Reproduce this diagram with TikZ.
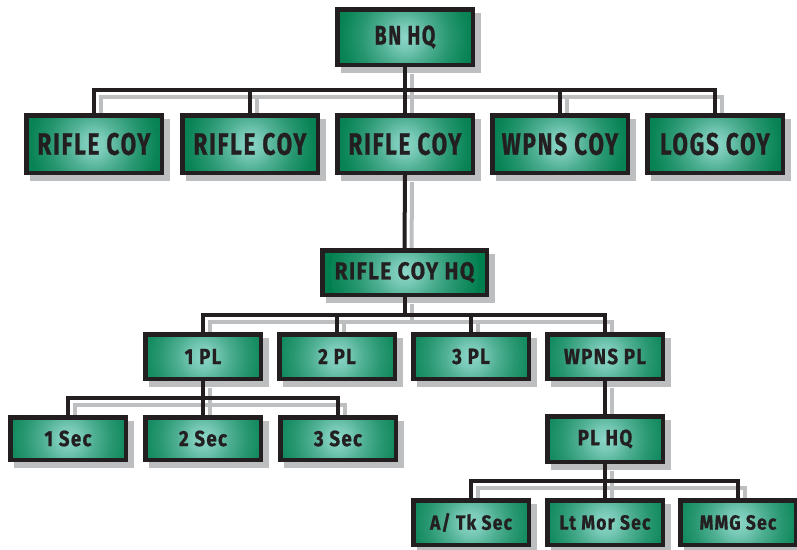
\documentclass[tikz,border=0pt]{standalone}
\usepackage{fontspec}
\newfontfamily\coyfont{Fira Sans}[FakeStretch=0.72, LetterSpace=6, FakeBold=0.8]
\newfontfamily\plfont{Fira Sans}[FakeStretch=0.85, LetterSpace=6, FakeBold=0.8]
\usetikzlibrary{backgrounds}

\definecolor{boxgreen}{RGB}{0,126,78}
\definecolor{glowteal}{RGB}{140,214,200}
\definecolor{ink}{RGB}{35,31,32}
\definecolor{shadowgray}{RGB}{188,190,192}

% light spot in the middle of every box
\pgfdeclareradialshading{unitglow}{\pgfpoint{0bp}{0bp}}{%
  color(0bp)=(glowteal); color(4bp)=(glowteal!85!boxgreen);
  color(9bp)=(glowteal!55!boxgreen); color(15bp)=(glowteal!28!boxgreen);
  color(21bp)=(glowteal!8!boxgreen); color(25bp)=(boxgreen); color(50bp)=(boxgreen)}

\tikzset{
  unit/.style={draw=ink, line width=4.5pt, fill=boxgreen, text=ink, inner sep=0pt,
    path picture={\shade[shading=unitglow]
      (path picture bounding box.center) circle (74pt);}},
  coy/.style={unit, minimum width=135.5pt, minimum height=57.5pt,
    font=\coyfont\bfseries\fontsize{31}{31}\selectfont},
  pl/.style={unit, minimum width=115.5pt, minimum height=44.5pt,
    font=\plfont\bfseries\fontsize{22}{22}\selectfont},
  sec/.style={pl, minimum height=42.5pt},
  link/.style={draw=ink, line width=4pt},
  linkshadow/.style={draw=shadowgray, line width=4pt,
    transform canvas={xshift=7pt, yshift=-7pt}},
}

% the wires, once as shadow and once in ink
\newcommand\orgwires[1]{%
  \foreach \n in {c1,c2,c3,c4,c5}
    \draw[#1] (bn.south) -- (bn.south |- 0,90) -| (\n.north);
  \draw[#1] (c3.south) -- (hq.north);
  \foreach \n in {p1,p2,p3,p4}
    \draw[#1] (hq.south) -- (hq.south |- 0,315) -| (\n.north);
  \foreach \n in {s1,s2,s3}
    \draw[#1] (p1.south) -- (p1.south |- 0,398) -| (\n.north);
  \draw[#1] (p4.south) -- (plhq.north);
  \foreach \n in {w1,w2,w3}
    \draw[#1] (plhq.south) -- (plhq.south |- 0,481) -| (\n.north);
}

\begin{document}
\begin{tikzpicture}[x=1pt, y=-1pt]
  \useasboundingbox (0,0) rectangle (797,549);

  % battalion
  \node[coy, minimum height=55.5pt, font=\coyfont\bfseries\fontsize{27}{27}\selectfont]
    (bn) at (405,37) {BN HQ};

  % companies
  \node[coy] (c1) at (94,144)  {RIFLE COY};
  \node[coy] (c2) at (250,144) {RIFLE COY};
  \node[coy] (c3) at (405,144) {RIFLE COY};
  \node[coy] (c4) at (560,144) {WPNS COY};
  \node[coy] (c5) at (715,144) {LOGS COY};

  \node[pl, minimum width=164.5pt, font=\plfont\bfseries\fontsize{24.5}{24.5}\selectfont]
    (hq) at (404.5,272.5) {RIFLE COY HQ};

  % platoons
  \node[pl] (p1) at (203,356.5) {1 PL};
  \node[pl] (p2) at (337,356.5) {2 PL};
  \node[pl] (p3) at (471,356.5) {3 PL};
  \node[pl] (p4) at (605,356.5) {WPNS PL};

  % sections
  \node[sec] (s1) at (68,438.5)  {1 Sec};
  \node[sec] (s2) at (203,438.5) {2 Sec};
  \node[sec] (s3) at (338,438.5) {3 Sec};

  \node[pl, minimum height=45.5pt] (plhq) at (605,439) {PL HQ};

  \node[pl, font=\plfont\bfseries\fontsize{20.5}{20.5}\selectfont] (w1) at (471,522.5) {A/ Tk Sec};
  \node[pl, font=\plfont\bfseries\fontsize{20.5}{20.5}\selectfont] (w2) at (605,522.5) {Lt Mor Sec};
  \node[pl, font=\plfont\bfseries\fontsize{20.5}{20.5}\selectfont] (w3) at (738,522.5) {MMG Sec};

  \begin{pgfonlayer}{background}
    \foreach \n in {bn,c1,c2,c3,c4,c5,hq,p1,p2,p3,p4,s1,s2,s3,plhq,w1,w2,w3}
      \fill[shadowgray] ([shift={(6,6)}]\n.north west) rectangle ([shift={(6,6)}]\n.south east);
    \orgwires{linkshadow}
    \orgwires{link}
  \end{pgfonlayer}
\end{tikzpicture}
\end{document}
